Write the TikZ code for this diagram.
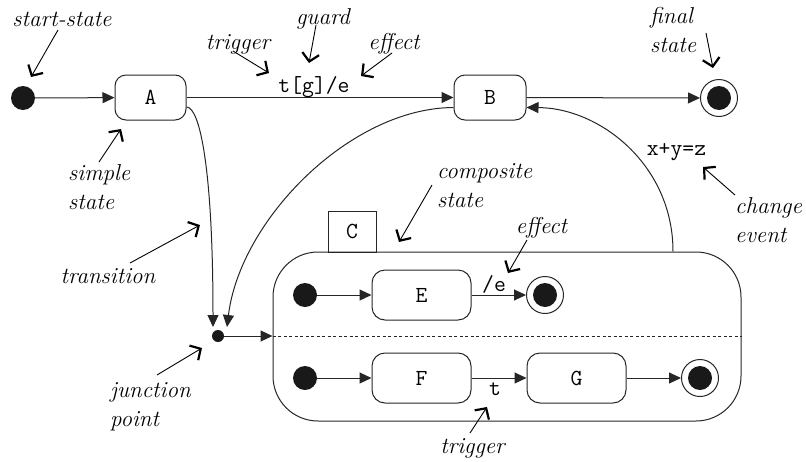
\documentclass[tikz,border=0pt]{standalone}
\usepackage{fontspec}
\usetikzlibrary{arrows.meta}
\begin{document}
\begin{tikzpicture}[x=1pt,y=-1pt,
  every node/.style={font=\fontsize{23}{29}\selectfont},
  ln/.style={draw=black!85, line width=1pt},
  tr/.style={ln, -{Triangle[length=12pt,width=11pt]}},
  ann/.style={draw=black, line width=0.9pt, -{Straight Barb[length=8pt,width=17pt,line width=2.2pt]}},
  lbl/.style={font=\fontsize{23}{29}\selectfont\itshape, inner sep=0pt},
  ttl/.style={font=\fontsize{23}{29}\selectfont\ttfamily, inner sep=0pt},
  stbox/.style={ln, rounded corners=11pt, inner sep=0pt, font=\fontsize{23}{29}\selectfont\ttfamily},
  initst/.style={circle, fill=black!90, minimum size=24pt, inner sep=0pt},
  finst/.style={circle, ln, minimum size=37pt, inner sep=0pt,
    path picture={\fill[black!90] (path picture bounding box.center) circle (12pt);}},
  jpt/.style={circle, fill=black!90, minimum size=12pt, inner sep=0pt},
]
\useasboundingbox (0,0) rectangle (806,461);

% composite state
\node[ln, rounded corners=45pt, minimum width=468pt, minimum height=169pt, inner sep=0pt] (comp) at (507,336.5) {};
\node[ln, minimum width=48pt, minimum height=41pt, inner sep=0pt, font=\fontsize{23}{29}\selectfont\ttfamily] (C) at (352,231.5) {C};
\draw[draw=black!85, line width=0.8pt, dash pattern=on 3pt off 2.5pt] (comp.west) -- (comp.east);

% states
\node[initst] (s0) at (23,98) {};
\node[stbox, minimum width=71pt, minimum height=45pt] (A) at (150.5,97.5) {A};
\node[stbox, minimum width=72pt, minimum height=45pt] (B) at (490,97.5) {B};
\node[finst] (f0) at (719,98) {};
\node[jpt] (J) at (218,336) {};

\node[initst] (ei) at (305,295) {};
\node[stbox, minimum width=99pt, minimum height=50pt, rounded corners=13pt] (E) at (421.5,295) {E};
\node[finst] (ef) at (545,295) {};
\node[initst] (fi) at (305,378) {};
\node[stbox, minimum width=99pt, minimum height=50pt, rounded corners=13pt] (F) at (421.5,378) {F};
\node[stbox, minimum width=99pt, minimum height=50pt, rounded corners=13pt] (G) at (576.5,378) {G};
\node[finst] (gf) at (700,378) {};

\coordinate (j1) at (213,327);
\coordinate (j2) at (227,327);

% transitions
\draw[tr] (s0) -- (A);
\draw[tr] (A) -- (B);
\draw[tr] (B) -- (f0);
\draw[tr] ([yshift=-9.5pt]A.east) .. controls (200,107) and (213,170) .. (j1);
\draw[tr] ([yshift=-10pt]B.west) .. controls (350,108) and (240,220) .. (j2);
\draw[tr] ([xshift=166pt]comp.north) .. controls (673,165) and (600,108) .. ([yshift=-10pt]B.east);
\draw[tr] (J) -- (J -| comp.west);
\draw[tr] (ei) -- (E);
\draw[tr] (E) -- (ef);
\draw[tr] (fi) -- (F);
\draw[tr] (F) -- (G);
\draw[tr] (G) -- (gf);

% transition texts
\node[ttl, anchor=base] (ltge) at (314,92) {t[g]/e};
\node[ttl, anchor=base] (lxyz) at (676.5,155) {x+y=z};
\node[ttl, anchor=base] (le) at (494,291) {/e};
\node[ttl, anchor=base] (lt) at (495,395) {t};

% annotations
\node[lbl, anchor=base] (nstart) at (62,26) {start-state};
\node[lbl, anchor=base] (ntrig) at (238,49) {trigger};
\node[lbl, anchor=base] (nguard) at (323,24) {guard};
\node[lbl, anchor=base] (neff) at (394,49) {effect};
\node[lbl, anchor=base] (ntrans) at (108,283) {transition};
\node[lbl, anchor=base] (neff2) at (541.5,233) {effect};
\node[lbl, anchor=base] (ntrig2) at (472.5,453) {trigger};
\node[lbl, anchor=north west, align=left] (nfinal) at (650,7) {final\\state};
\node[lbl, anchor=north west, align=left] (nsimple) at (68,164) {simple\\state};
\node[lbl, anchor=north west, align=left] (ncomp) at (437,163) {composite\\state};
\node[lbl, anchor=north west, align=left] (nchange) at (735,197) {change\\event};
\node[lbl, anchor=north west, align=left] (njunc) at (110,382) {junction\\point};

\coordinate (a1s) at (58,30);   \coordinate (a1e) at (31,77);
\coordinate (a2s) at (99,162);  \coordinate (a2e) at (121,129);
\coordinate (a3s) at (233,51);  \coordinate (a3e) at (269,73);
\coordinate (a4s) at (316,25);  \coordinate (a4e) at (309,63);
\coordinate (a5s) at (392,53);  \coordinate (a5e) at (361,76);
\coordinate (a6s) at (706,33);  \coordinate (a6e) at (713,68);
\coordinate (a7s) at (432,185); \coordinate (a7e) at (399,242);
\coordinate (a8s) at (735,195); \coordinate (a8e) at (703,167);
\coordinate (a9s) at (130,263); \coordinate (a9e) at (200,225);
\coordinate (a10s) at (157,375); \coordinate (a10e) at (202,348);
\coordinate (a11s) at (527,240); \coordinate (a11e) at (508,273);
\coordinate (a12s) at (470,433); \coordinate (a12e) at (487,407);
\foreach \i in {1,...,12} { \draw[ann] (a\i s) -- (a\i e); }
\end{tikzpicture}
\end{document}
